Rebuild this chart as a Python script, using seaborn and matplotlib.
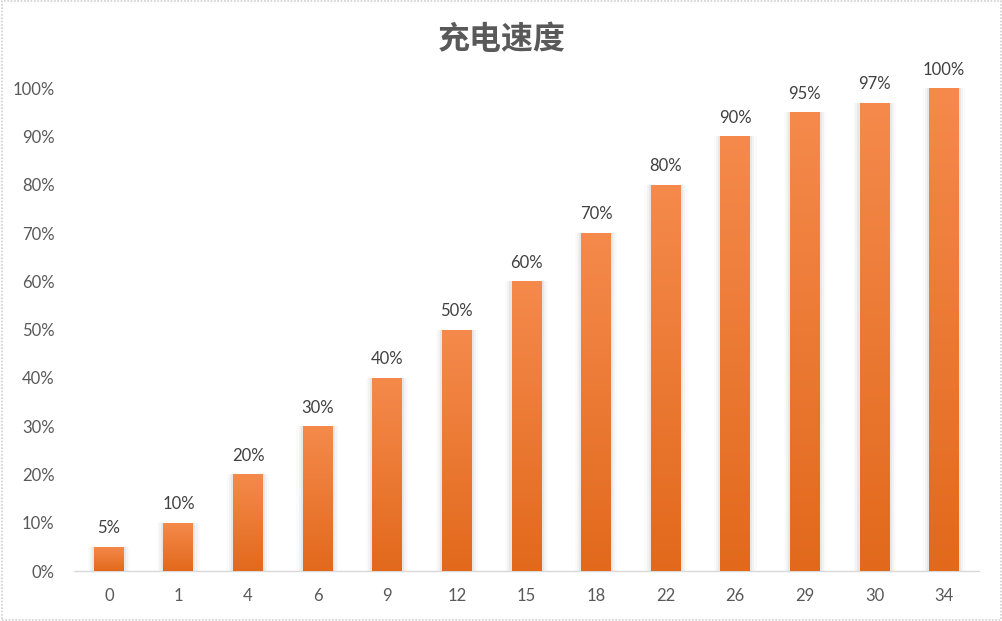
import numpy as np
import pandas as pd
import matplotlib
matplotlib.use("Agg")
import matplotlib.pyplot as plt
import seaborn as sns
from matplotlib.colors import LinearSegmentedColormap
from matplotlib.patches import Rectangle

categories = ["0", "1", "4", "6", "9", "12", "15", "18", "22", "26", "29", "30", "34"]
values = [0.05, 0.10, 0.20, 0.30, 0.40, 0.50, 0.60, 0.70, 0.80, 0.90, 0.95, 0.97, 1.00]
value_labels = ["5%", "10%", "20%", "30%", "40%", "50%", "60%", "70%", "80%", "90%", "95%", "97%", "100%"]
y_ticks = [0.0, 0.1, 0.2, 0.3, 0.4, 0.5, 0.6, 0.7, 0.8, 0.9, 1.0]
y_tick_labels = ["0%", "10%", "20%", "30%", "40%", "50%", "60%", "70%", "80%", "90%", "100%"]
title = "充电速度"

sns.set_style("white")
plt.rcParams["font.family"] = ["Lato", "Noto Sans CJK SC", "DejaVu Sans"]

df = pd.DataFrame({"cat": categories, "val": values})

fig = plt.figure(figsize=(10.03, 6.21), dpi=100)
ax = fig.add_axes([0.0738, 0.0805, 0.9022, 0.7775])

sns.barplot(data=df, x="cat", y="val", color="#ED7D31", width=0.43, ax=ax,
            saturation=1, edgecolor="none", zorder=3)

ax.set_ylim(0, 1.0)
ax.set_xlim(-0.5, len(categories) - 0.5)

cmap = LinearSegmentedColormap.from_list("g", ["#E2691C", "#F58A4C"])
grad = np.linspace(0, 1, 256).reshape(-1, 1)
for p in list(ax.patches):
    x0, y0 = p.get_x(), p.get_y()
    w, h = p.get_width(), p.get_height()
    # soft shadow on the sides
    for k, a in enumerate([0.10, 0.06, 0.03]):
        d = 0.03 * (k + 1)
        sh = Rectangle((x0 - d, y0), w + 2 * d, h,
                       facecolor="#808080", alpha=a, edgecolor="none", zorder=2)
        ax.add_patch(sh)
    im = ax.imshow(grad, cmap=cmap, aspect="auto", origin="lower",
                   extent=[x0, x0 + w, y0, y0 + h], zorder=4)
    im.set_clip_path(p)

for i, (v, lab) in enumerate(zip(values, value_labels)):
    ax.text(i, v + 0.022, lab, ha="center", va="bottom", fontsize=12,
            color="#404040", clip_on=False, zorder=5)

ax.set_yticks(y_ticks)
ax.set_yticklabels(y_tick_labels)
ax.tick_params(axis="y", length=0, labelsize=12, labelcolor="#595959", pad=14)
ax.tick_params(axis="x", length=0, labelsize=12, labelcolor="#595959", pad=12)
ax.set_xticks(range(len(categories)))
ax.set_xticklabels(categories)
ax.set_xticks(np.arange(-0.5, len(categories), 1.0), minor=True)
ax.tick_params(axis="x", which="minor", length=6, color="#D9D9D9", width=1)
ax.set_xlabel("")
ax.set_ylabel("")

for s in ["top", "right", "left"]:
    ax.spines[s].set_visible(False)
ax.spines["bottom"].set_color("#D9D9D9")
ax.spines["bottom"].set_linewidth(1)

fig.text(0.5, 0.935, title, ha="center", va="center", fontsize=23,
         color="#595959", weight="bold", family=["Noto Sans CJK SC", "DejaVu Sans"])

border = Rectangle((0.002, 0.002), 0.996, 0.996, transform=fig.transFigure,
                   fill=False, edgecolor="#D0D0D0", linewidth=1.2, linestyle=(0, (1, 1)))
fig.patches.append(border)

fig.savefig("out.png", dpi=100, facecolor="white")
